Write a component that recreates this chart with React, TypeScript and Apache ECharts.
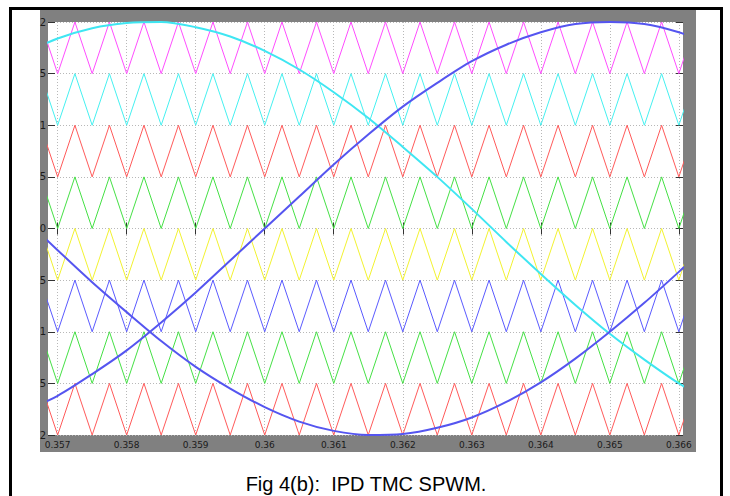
import React, { useEffect, useRef } from "react";
import * as echarts from "echarts";

// ---- data ----
const xTicks = [0.357, 0.358, 0.359, 0.36, 0.361, 0.362, 0.363, 0.364, 0.365, 0.366];
const yTicks = [-2, -1.5, -1, -0.5, 0, 0.5, 1, 1.5, 2];

// carrier vertices (peaks = 1, troughs = 0), same for all bands (IPD)
const carrierTimes = [
  0.35675, 0.357, 0.35725, 0.3575, 0.35775, 0.358, 0.35825, 0.3585, 0.35875, 0.359,
  0.35925, 0.3595, 0.35975, 0.36, 0.36025, 0.3605, 0.36075, 0.361, 0.36125, 0.3615,
  0.36175, 0.362, 0.36225, 0.3625, 0.36275, 0.363, 0.36325, 0.3635, 0.36375, 0.364,
  0.36425, 0.3645, 0.36475, 0.365, 0.36525, 0.3655, 0.36575, 0.366, 0.36625,
];
const carrierLevel = [
  1, 0, 1, 0, 1, 0, 1, 0, 1, 0, 1, 0, 1, 0, 1, 0, 1, 0, 1, 0,
  1, 0, 1, 0, 1, 0, 1, 0, 1, 0, 1, 0, 1, 0, 1, 0, 1, 0, 1,
];
const bandBottoms = [1.5, 1, 0.5, 0, -0.5, -1, -1.5, -2];
const bandHeight = 0.5;
const bandColors = ["#ff4dff", "#45f0f0", "#ff5a5a", "#45e045", "#f2f230", "#5a5aff", "#45e045", "#ff5a5a"];

// reference sine waves
const refTimes = [
  0.3565, 0.357, 0.3575, 0.358, 0.3585, 0.359, 0.3595, 0.36, 0.3605, 0.361, 0.3615,
  0.362, 0.3625, 0.363, 0.3635, 0.364, 0.3645, 0.365, 0.3655, 0.366, 0.3665,
];
const refCyan = [
  1.69, 1.84, 1.94, 1.99, 2.0, 1.95, 1.86, 1.72, 1.54, 1.32, 1.07,
  0.79, 0.5, 0.19, -0.13, -0.44, -0.74, -1.02, -1.27, -1.5, -1.69,
];
const refBlueA = [
  -1.78, -1.62, -1.41, -1.18, -0.91, -0.62, -0.31, 0.0, 0.31, 0.62, 0.91,
  1.18, 1.41, 1.62, 1.78, 1.9, 1.98, 2.0, 1.98, 1.9, 1.78,
];
const refBlueB = [
  0.11, -0.21, -0.52, -0.81, -1.09, -1.34, -1.55, -1.73, -1.87, -1.96, -2.0,
  -1.99, -1.93, -1.83, -1.68, -1.49, -1.26, -1.0, -0.72, -0.42, -0.11,
];

const caption = "Fig 4(b):  IPD TMC SPWM.";

export default function App() {
  const ref = useRef<HTMLDivElement>(null);

  useEffect(() => {
    if (!ref.current) return;
    const chart = echarts.init(ref.current, undefined, { renderer: "svg" });

    const carrierSeries = bandBottoms.map((b, i) => ({
      type: "line",
      name: "carrier" + i,
      data: carrierTimes.map((t, k) => [t, b + bandHeight * carrierLevel[k]]),
      showSymbol: false,
      symbol: "none",
      lineStyle: { color: bandColors[i], width: 1 },
      clip: true,
      z: 2,
    }));

    const refSeries = [
      { data: refCyan, color: "#3fe6f2" },
      { data: refBlueA, color: "#5555f0" },
      { data: refBlueB, color: "#5555f0" },
    ].map((r, i) => ({
      type: "line",
      name: "ref" + i,
      data: refTimes.map((t, k) => [t, r.data[k]]),
      showSymbol: false,
      symbol: "none",
      smooth: 0.3,
      lineStyle: { color: r.color, width: 2 },
      clip: true,
      z: 3,
    }));

    const tickColor = "#333";
    const gridLine = { show: true, lineStyle: { color: "#b8b8b8", type: [1, 2], width: 1 } };

    chart.setOption({
      animation: false,
      backgroundColor: "#ffffff",
      grid: {
        left: 48,
        right: 47,
        top: 22,
        bottom: 61,
        show: true,
        backgroundColor: "#ffffff",
        borderWidth: 0,
      },
      xAxis: [
        {
          type: "value",
          min: 0.35686,
          max: 0.36606,
          position: "bottom",
          axisLine: { show: false },
          axisTick: { show: true, inside: true, length: 6, customValues: xTicks, lineStyle: { color: tickColor } },
          axisLabel: {
            show: true,
            customValues: xTicks,
            margin: 5,
            fontSize: 9,
            color: "#1a1a1a",
            fontFamily: "DejaVu Sans",
            formatter: (v: number) => String(Number(v.toFixed(3))),
          },
          splitLine: gridLine,
        },
        {
          type: "value",
          min: 0.35686,
          max: 0.36606,
          position: "top",
          axisLine: { show: false },
          axisTick: { show: true, inside: true, length: 6, customValues: xTicks, lineStyle: { color: tickColor } },
          axisLabel: { show: false },
          splitLine: { show: false },
        },
      ],
      yAxis: [
        {
          type: "value",
          min: -2,
          max: 2,
          interval: 0.5,
          position: "left",
          axisLine: { show: false },
          axisTick: { show: true, inside: true, length: 7, lineStyle: { color: tickColor } },
          axisLabel: {
            show: true,
            margin: 2,
            fontSize: 10,
            color: "#1a1a1a",
            fontFamily: "DejaVu Sans",
            formatter: (v: number) => {
              const s = String(Math.abs(v));
              return s[s.length - 1];
            },
          },
          splitLine: gridLine,
        },
        {
          type: "value",
          min: -2,
          max: 2,
          interval: 0.5,
          position: "right",
          axisLine: { show: false },
          axisTick: { show: true, inside: true, length: 7, lineStyle: { color: tickColor } },
          axisLabel: { show: false },
          splitLine: { show: false },
        },
      ],
      graphic: [
        {
          type: "rect",
          z: -10,
          silent: true,
          shape: { x: 40, y: 10, width: 656, height: 442 },
          style: { fill: "#808080" },
        },
        {
          type: "rect",
          z: 100,
          silent: true,
          shape: { x: 10.5, y: 8.5, width: 711, height: 520 },
          style: { fill: "none", stroke: "#000000", lineWidth: 3 },
        },
        {
          type: "text",
          z: 100,
          x: 366,
          y: 484,
          style: {
            text: caption,
            fill: "#000000",
            font: '20px "Liberation Sans", Arial, sans-serif',
            align: "center",
            verticalAlign: "middle",
          },
        },
      ],
      series: [...carrierSeries, ...refSeries],
    });

    return () => {
      chart.dispose();
    };
  }, []);

  return (
    <div
      ref={ref}
      style={{ position: "absolute", left: 0, top: 0, width: 730, height: 496 }}
    />
  );
}
